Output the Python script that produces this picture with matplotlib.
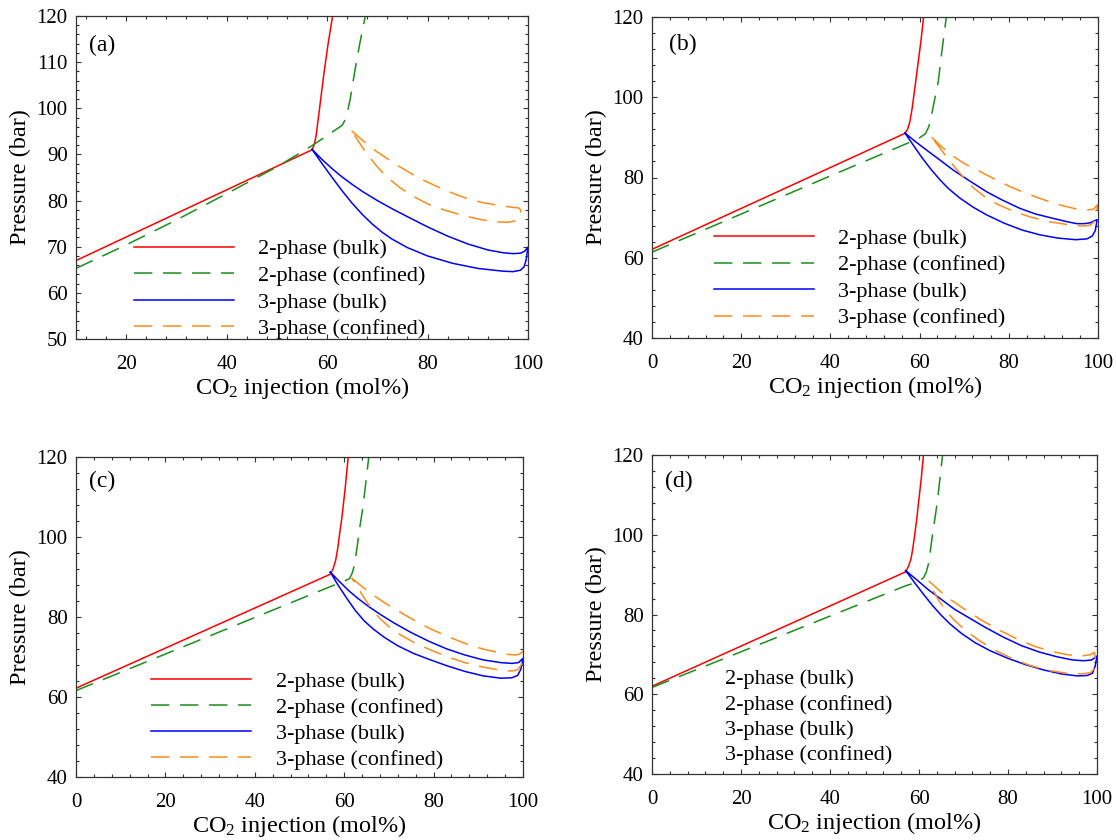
"""Four-panel P-x diagrams for CO2 injection: bulk vs confined, 2- and 3-phase."""

import matplotlib.pyplot as plt
from matplotlib.ticker import MultipleLocator

plt.rcParams.update({
    'font.family': ['Liberation Serif', 'DejaVu Serif'],
    'mathtext.fontset': 'custom',
    'mathtext.rm': 'Liberation Serif',
    'mathtext.it': 'Liberation Serif:italic',
    'font.size': 15,
})

# ---- panel (a) ----
a_2p_bulk_x = [10, 57.0, 57.4, 57.8, 58.5, 59.3, 60.2, 61.1]
a_2p_bulk_y = [67.0, 91.0, 92.0, 94.0, 100.0, 107.0, 114.0, 120.0]
a_2p_conf_x = [10, 20, 30, 40, 50, 57, 63.0, 63.6, 64.1, 64.6, 65.5, 66.5, 67.6]
a_2p_conf_y = [65.3, 70.4, 75.8, 81.5, 87.3, 91.9, 96.3, 97.5, 99.5, 102.0, 108.0, 114.0, 120.0]
a_3p_bulk_up_x = [57, 59, 61, 63, 65, 67, 70, 73, 76, 80, 84, 88, 92, 95, 97, 98.5, 99.3, 100]
a_3p_bulk_up_y = [91.1, 88.9, 86.9, 85.1, 83.5, 82.0, 80.0, 78.2, 76.5, 74.3, 72.3, 70.6, 69.3,
                  68.7, 68.5, 68.6, 69.0, 69.9]
a_3p_bulk_lo_x = [57, 59, 61, 63, 65, 67, 69, 71, 73, 76, 80, 85, 90, 95, 97, 98.5, 99.2, 99.6, 100]
a_3p_bulk_lo_y = [91.1, 88.0, 85.0, 82.1, 79.4, 77.0, 74.9, 73.1, 71.6, 69.8, 68.0, 66.4, 65.3,
                  64.7, 64.6, 64.9, 65.6, 67.0, 69.9]
a_3p_conf_up_x = [64.9, 67, 69.9, 73.9, 76.5, 79.2, 82, 85.2, 88, 91.2, 94, 95.8, 97.2, 98.2, 98.5,
                  98.6]
a_3p_conf_up_y = [95.1, 93.1, 90.6, 87.7, 86.0, 84.4, 83.0, 81.5, 80.4, 79.5, 79.0, 78.7, 78.5,
                  78.4, 78.0, 77.1]
a_3p_conf_lo_x = [64.9, 66.5, 68, 70, 72, 74.5, 77, 80, 83.5, 87, 90.5, 93.5, 96, 97.5, 98.3, 98.6]
a_3p_conf_lo_y = [95.1, 92.4, 90.0, 87.3, 85.0, 82.8, 81.0, 79.3, 77.9, 76.8, 75.9, 75.4, 75.3,
                  75.6, 76.2, 77.1]

# ---- panel (b) ----
b_2p_bulk_x = [0, 56.7, 57.3, 57.8, 58.3, 58.9, 59.6, 60.3, 60.9]
b_2p_bulk_y = [62.1, 91.0, 92.0, 93.8, 97.0, 102.0, 108.0, 114.0, 120.0]
b_2p_conf_x = [0, 20, 40, 57, 60, 61.3, 62.0, 62.6, 63.2, 64.2, 65.0, 66.0]
b_2p_conf_y = [61.4, 70.9, 80.4, 88.4, 89.9, 90.9, 92.5, 95.0, 98.5, 104.0, 111.5, 120.0]
b_3p_bulk_up_x = [56.7, 59, 61.6, 64.5, 67.6, 71, 75.1, 78.5, 82.5, 86, 90, 93, 95.2, 97, 98.2,
                  99.8]
b_3p_bulk_up_y = [91.1, 89.0, 86.8, 84.4, 81.8, 79.3, 76.4, 74.4, 72.3, 70.9, 69.8, 69.0, 68.5,
                  68.5, 68.7, 69.5]
b_3p_bulk_lo_x = [56.7, 58.5, 60.5, 62.5, 64.5, 66.5, 69, 72, 75, 79, 83, 87, 91, 95, 97.5, 98.7,
                  99.4, 99.8]
b_3p_bulk_lo_y = [91.1, 88.2, 85.0, 82.1, 79.5, 77.2, 74.9, 72.6, 70.7, 68.6, 66.9, 65.7, 64.9,
                  64.5, 64.7, 65.4, 66.8, 69.5]
b_3p_conf_up_x = [62.7, 65, 67.5, 70, 73, 76.5, 80.5, 84.5, 88.5, 92, 95, 97.5, 99, 99.9]
b_3p_conf_up_y = [90.0, 87.6, 85.3, 83.5, 81.8, 79.8, 77.6, 75.8, 74.2, 73.0, 72.2, 71.9, 72.1, 73.2]
b_3p_conf_lo_x = [62.7, 64.2, 66, 68, 70, 72, 74.5, 77.5, 81, 85, 89, 93, 96.5, 98.2, 99.0, 99.6,
                  99.9]
b_3p_conf_lo_y = [90.0, 87.9, 85.2, 82.4, 79.8, 77.5, 75.3, 73.3, 71.6, 70.1, 69.0, 68.3, 67.9,
                  68.1, 68.8, 70.8, 73.2]

# ---- panel (c) ----
c_2p_bulk_x = [0, 56.9, 57.5, 58.1, 58.6, 59.0, 59.5, 60.2, 60.9]
c_2p_bulk_y = [62.2, 90.7, 92.0, 94.2, 97.5, 101.0, 105.0, 112.0, 120.0]
c_2p_conf_x = [0, 56.9, 59.7, 61.2, 61.8, 62.3, 62.9, 63.5, 64.2, 65.5]
c_2p_conf_y = [61.6, 87.6, 88.8, 89.6, 91.0, 93.0, 97.6, 102.5, 107.5, 120.0]
c_3p_bulk_up_x = [56.9, 59, 61, 63, 65.5, 68, 71, 75, 79, 83, 87, 91, 95, 97.5, 99, 100]
c_3p_bulk_up_y = [91.2, 88.8, 86.6, 84.7, 82.6, 80.7, 78.6, 76.1, 73.9, 72.0, 70.5, 69.3, 68.6,
                  68.4, 68.6, 69.7]
c_3p_bulk_lo_x = [56.9, 58.5, 60.5, 62.5, 64.5, 66.5, 69, 72, 75.5, 79, 83, 87, 91, 95, 97.5, 98.8,
                  99.5, 100]
c_3p_bulk_lo_y = [91.2, 88.2, 84.8, 81.6, 79.0, 77.0, 74.9, 72.8, 70.9, 69.4, 67.8, 66.4, 65.3,
                  64.7, 64.8, 65.4, 66.9, 69.7]
c_3p_conf_up_x = [61.7, 64, 67, 69, 71, 75, 79, 83, 87, 91, 95, 97, 98.2, 99.2, 100]
c_3p_conf_up_y = [89.7, 87.6, 85.1, 83.6, 82.2, 79.6, 77.2, 75.2, 73.4, 72.0, 71.0, 70.6, 70.5,
                  70.7, 71.4]
c_3p_conf_lo_x = [61.7, 63, 64.5, 66, 68, 70, 72.5, 75.5, 79, 83, 87, 91, 95, 97.5, 98.8, 99.6, 100]
c_3p_conf_lo_y = [89.7, 87.4, 84.7, 82.2, 79.6, 77.6, 75.6, 73.7, 71.9, 70.1, 68.6, 67.5, 66.7,
                  66.5, 66.8, 68.0, 71.4]

# ---- panel (d) ----
d_2p_bulk_x = [0, 57.0, 57.6, 58.2, 58.6, 59.0, 59.5, 59.9, 60.5, 61.0]
d_2p_bulk_y = [62.0, 90.7, 92.0, 93.9, 96.5, 99.7, 104.0, 108.1, 114.0, 120.0]
d_2p_conf_x = [0, 57.0, 59.8, 61.0, 61.6, 62.2, 62.9, 63.5, 64.1, 65.3]
d_2p_conf_y = [61.7, 87.2, 88.2, 89.2, 90.5, 93.0, 98.9, 103.5, 108.1, 120.0]
d_3p_bulk_up_x = [57, 59.5, 62, 65, 68, 71.5, 75, 79, 83, 87, 91, 94.5, 97, 98.8, 100]
d_3p_bulk_up_y = [91.0, 88.7, 86.3, 83.8, 81.3, 79.0, 76.7, 74.3, 72.2, 70.6, 69.4, 68.6, 68.4,
                  68.6, 69.6]
d_3p_bulk_lo_x = [57, 59, 61, 63, 65, 67, 69.5, 72.5, 76, 80, 84, 88, 92, 95.5, 97.8, 99, 99.6, 100]
d_3p_bulk_lo_y = [91.0, 88.0, 85.1, 82.3, 79.8, 77.6, 75.3, 73.0, 70.9, 69.0, 67.4, 66.1, 65.1,
                  64.6, 64.7, 65.3, 67.1, 69.6]
d_3p_conf_up_x = [62.2, 64.5, 67, 70, 74, 78, 82, 86, 90, 93.5, 96.5, 98.5, 99.4]
d_3p_conf_up_y = [88.4, 86.1, 83.8, 81.5, 78.6, 76.1, 73.9, 72.0, 70.7, 69.9, 69.6, 69.9, 70.5]
d_3p_conf_lo_x = [62.2, 63.2, 64.5, 66, 68, 70.5, 73.5, 77, 81, 85, 89, 93, 96.5, 98.5, 99.5, 99.8,
                  99.4]
d_3p_conf_lo_y = [88.4, 86.0, 83.4, 81.0, 78.5, 76.0, 73.5, 71.1, 68.9, 67.2, 66.0, 65.3, 65.1,
                  65.4, 66.5, 68.0, 70.5]

labels = ['2-phase (bulk)', '2-phase (confined)', '3-phase (bulk)', '3-phase (confined)']
RED, GREEN, BLUE, ORANGE = '#ff0000', '#1a8f1a', '#0000ff', '#ff8c1a'
DASH = (12, 7)


def loop(up, lo):
    # upper branch out to the right, lower branch back to the start point
    return list(up) + list(lo[::-1])


def panel(ax, tag, xlim, ylim, ymaj, ymin, bulk2, conf2, bulk3, conf3,
          leg_xy, tag_xy, handles=True, spacing=0.27):
    l1, = ax.plot(bulk2[0], bulk2[1], color=RED, lw=1.1)
    l2, = ax.plot(conf2[0], conf2[1], color=GREEN, lw=1.1, dashes=DASH)
    l3, = ax.plot(loop(bulk3[0], bulk3[2]), loop(bulk3[1], bulk3[3]), color=BLUE, lw=1.1)
    l4, = ax.plot(loop(conf3[0], conf3[2]), loop(conf3[1], conf3[3]), color=ORANGE, lw=1.1,
                  dashes=DASH)
    ax.set_xlim(*xlim)
    ax.set_ylim(*ylim)
    ax.xaxis.set_major_locator(MultipleLocator(20))
    ax.xaxis.set_minor_locator(MultipleLocator(4))
    ax.yaxis.set_major_locator(MultipleLocator(ymaj))
    ax.yaxis.set_minor_locator(MultipleLocator(ymin))
    ax.tick_params(which='both', direction='in', top=True, right=True, color='#333333')
    ax.tick_params(which='major', length=3.8, width=0.8, labelsize=15)
    ax.tick_params(which='minor', length=2.0, width=0.8)
    ax.tick_params(axis='x', pad=11.5)
    ax.tick_params(axis='y', pad=6)
    for s in ax.spines.values():
        s.set_color('#333333')
        s.set_linewidth(0.9)
    ax.set_xlabel(r'CO$_2$ injection (mol%)', fontsize=17.5, labelpad=0.5)
    ax.set_ylabel('Pressure (bar)', fontsize=17.5, labelpad=4)
    ax.text(tag_xy[0], tag_xy[1], tag, transform=ax.transAxes, fontsize=17,
            ha='left', va='center')
    ax.legend([l1, l2, l3, l4], labels, loc='upper left', bbox_to_anchor=leg_xy,
              frameon=False, fontsize=16, borderpad=0, borderaxespad=0,
              handlelength=4.5 if handles else 0,
              handletextpad=1.1 if handles else 0,
              labelspacing=spacing)


fig = plt.figure(figsize=(11.16, 8.4), dpi=100)
W, H = 1116, 840
ax_a = fig.add_axes([76 / W, 1 - 339 / H, 452 / W, 323 / H])
ax_b = fig.add_axes([652 / W, 1 - 338 / H, 446 / W, 321 / H])
ax_c = fig.add_axes([76 / W, 1 - 777 / H, 447 / W, 320 / H])
ax_d = fig.add_axes([652 / W, 1 - 774 / H, 445 / W, 319 / H])

panel(ax_a, '(a)', (10, 100), (50, 120), 10, 2,
      (a_2p_bulk_x, a_2p_bulk_y), (a_2p_conf_x, a_2p_conf_y),
      (a_3p_bulk_up_x, a_3p_bulk_up_y, a_3p_bulk_lo_x, a_3p_bulk_lo_y),
      (a_3p_conf_up_x, a_3p_conf_up_y, a_3p_conf_lo_x, a_3p_conf_lo_y),
      (0.128, 0.310), (0.028, 0.910))
panel(ax_b, '(b)', (0, 100), (40, 120), 20, 4,
      (b_2p_bulk_x, b_2p_bulk_y), (b_2p_conf_x, b_2p_conf_y),
      (b_3p_bulk_up_x, b_3p_bulk_up_y, b_3p_bulk_lo_x, b_3p_bulk_lo_y),
      (b_3p_conf_up_x, b_3p_conf_up_y, b_3p_conf_lo_x, b_3p_conf_lo_y),
      (0.138, 0.342), (0.037, 0.913))
panel(ax_c, '(c)', (0, 100), (40, 120), 20, 4,
      (c_2p_bulk_x, c_2p_bulk_y), (c_2p_conf_x, c_2p_conf_y),
      (c_3p_bulk_up_x, c_3p_bulk_up_y, c_3p_bulk_lo_x, c_3p_bulk_lo_y),
      (c_3p_conf_up_x, c_3p_conf_up_y, c_3p_conf_lo_x, c_3p_conf_lo_y),
      (0.168, 0.331), (0.028, 0.923), spacing=0.25)
panel(ax_d, '(d)', (0, 100), (40, 120), 20, 4,
      (d_2p_bulk_x, d_2p_bulk_y), (d_2p_conf_x, d_2p_conf_y),
      (d_3p_bulk_up_x, d_3p_bulk_up_y, d_3p_bulk_lo_x, d_3p_bulk_lo_y),
      (d_3p_conf_up_x, d_3p_conf_up_y, d_3p_conf_lo_x, d_3p_conf_lo_y),
      (0.164, 0.330), (0.029, 0.916), handles=False, spacing=0.21)

fig.savefig('out.png', dpi=100)
plt.close(fig)
